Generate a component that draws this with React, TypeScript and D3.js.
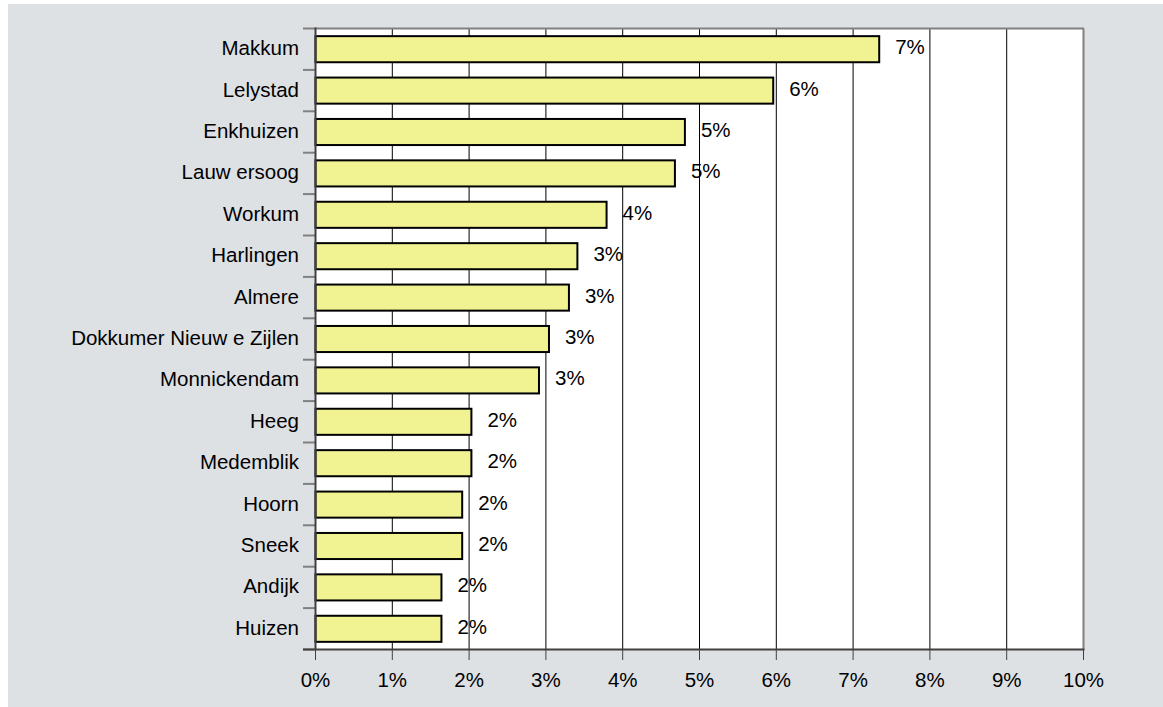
import React from "react";
import * as d3 from "d3";

const categories: string[] = [
  "Makkum",
  "Lelystad",
  "Enkhuizen",
  "Lauw ersoog",
  "Workum",
  "Harlingen",
  "Almere",
  "Dokkumer Nieuw e Zijlen",
  "Monnickendam",
  "Heeg",
  "Medemblik",
  "Hoorn",
  "Sneek",
  "Andijk",
  "Huizen",
];

const values: number[] = [
  0.0734, 0.0596, 0.0481, 0.0468, 0.0379, 0.0341, 0.033, 0.0304, 0.0291,
  0.0203, 0.0203, 0.0191, 0.0191, 0.0164, 0.0164,
];

const xTicks: number[] = [0, 0.01, 0.02, 0.03, 0.04, 0.05, 0.06, 0.07, 0.08, 0.09, 0.1];

const W = 1163;
const H = 707;
const FONT = "'Liberation Sans', Arial, sans-serif";

export default function App() {
  const x = d3.scaleLinear().domain([0, 0.1]).range([315.5, 1083.5]);
  const y = d3
    .scaleBand<string>()
    .domain(categories)
    .range([28.5, 649.5])
    .paddingInner(0.37)
    .paddingOuter(0.185);
  const step = y.step();
  const top = 28.5;
  const bottom = 649.5;
  const fmt = d3.format(".0%");
  const boundaries = d3.range(categories.length + 1).map((i) => top + (y.paddingOuter() ? 0 : 0) + i * step);

  return (
    <svg
      width={W}
      height={H}
      style={{ position: "absolute", left: 0, top: 0, display: "block" }}
      fontFamily={FONT}
    >
      <rect x={0} y={0} width={W} height={H} fill="#ffffff" />
      <rect x={8} y={4} width={W - 8} height={H - 4} fill="#dee1e4" />
      {/* plot area */}
      <rect x={x(0)} y={top} width={x(0.1) - x(0)} height={bottom - top} fill="#ffffff" />
      {/* gridlines */}
      {xTicks.slice(1, -1).map((t) => (
        <line key={"g" + t} x1={x(t)} x2={x(t)} y1={top} y2={bottom} stroke="#000" strokeWidth={1} />
      ))}
      {/* top & right border */}
      <line x1={x(0)} x2={x(0.1) + 0.5} y1={top} y2={top} stroke="#808080" strokeWidth={2} />
      <line x1={x(0.1)} x2={x(0.1)} y1={top} y2={bottom} stroke="#808080" strokeWidth={2} />
      {/* y ticks */}
      {boundaries.map((b, i) => (
        <line key={"yt" + i} x1={303} x2={x(0)} y1={b} y2={b} stroke="#808080" strokeWidth={2} />
      ))}
      {/* bars */}
      {categories.map((c, i) => (
        <rect
          key={"b" + c}
          x={x(0)}
          y={y(c)!}
          width={x(values[i]) - x(0)}
          height={y.bandwidth()}
          fill="#f1f291"
          stroke="#000"
          strokeWidth={2}
        />
      ))}
      {/* axes */}
      <line x1={x(0)} x2={x(0)} y1={top - 1} y2={bottom} stroke="#404040" strokeWidth={2} />
      <line x1={303} x2={x(0.1) + 1} y1={bottom} y2={bottom} stroke="#404040" strokeWidth={2} />
      {xTicks.map((t) => (
        <line key={"xt" + t} x1={x(t)} x2={x(t)} y1={bottom} y2={660} stroke="#404040" strokeWidth={1} />
      ))}
      {/* x tick labels */}
      {xTicks.map((t) => (
        <text key={"xl" + t} x={x(t)} y={687} textAnchor="middle" fontSize={20.5} fill="#000">
          {fmt(t)}
        </text>
      ))}
      {/* category labels */}
      {categories.map((c) => (
        <text key={"cl" + c} x={299} y={y(c)! + y.bandwidth() / 2 + 6} textAnchor="end" fontSize={20.5} fill="#000">
          {c}
        </text>
      ))}
      {/* value labels */}
      {categories.map((c, i) => (
        <text
          key={"vl" + c}
          x={x(values[i]) + 16}
          y={y(c)! + y.bandwidth() / 2 + 5}
          textAnchor="start"
          fontSize={20.5}
          fill="#000"
        >
          {fmt(values[i])}
        </text>
      ))}
    </svg>
  );
}
